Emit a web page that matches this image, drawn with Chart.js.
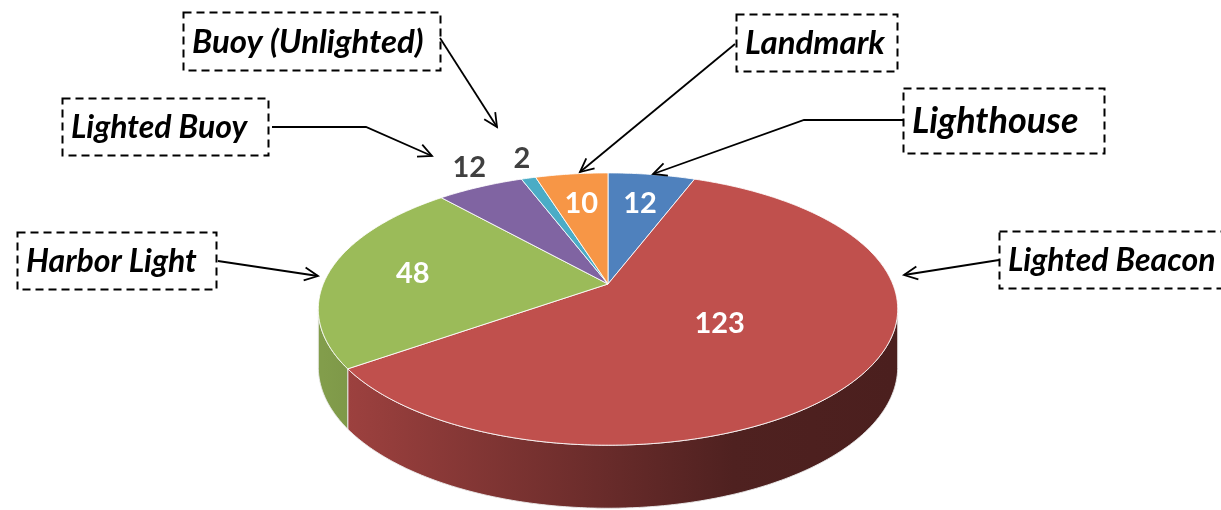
<!DOCTYPE html>
<html>
<head>
<meta charset="utf-8">
<title>Aids to navigation by type</title>
<script src="https://cdn.jsdelivr.net/npm/chart.js@4.4.1/dist/chart.umd.min.js"></script>
<style>
  html, body { margin: 0; padding: 0; background: #fff; }
  #cntAyudas { width: 1221px; height: 510px; }
</style>
</head>
<body>
<div id="cntAyudas"><canvas id="cntAyudas_Grafica" width="1221" height="510"></canvas></div>
<script>
  // data, clockwise from 12 o'clock
  const categories = ['Lighthouse', 'Lighted Beacon', 'Harbor Light', 'Lighted Buoy', 'Buoy (Unlighted)', 'Landmark'];
  const counts = [12, 123, 48, 12, 2, 10];
  const sliceColors = ['#4F81BD', '#C0504D', '#9BBB59', '#8064A2', '#4BACC6', '#F79646'];
  const outsideLabels = ['Lighted Buoy', 'Buoy (Unlighted)'];

  // tilt of the disc: perspective, horizontal/vertical stretch and thickness (relative to radius)
  const tilt = { persp: 0.184, sx: 1.26, sy: 0.582, thick: 0.252 };
  // light falloff across the side wall, left to right
  const shade = [[0, 0.84], [0.1, 0.78], [0.5, 0.54], [0.72, 0.41], [1, 0.39]];

  // dashed boxes with arrows pointing at the slices
  const callouts = [
    { text: 'Buoy (Unlighted)', box: [183, 12, 257, 58], size: 33, path: [[440, 38], [497, 127]] },
    { text: 'Lighted Buoy',     box: [62, 98, 206, 57],   size: 32, path: [[272, 127], [366, 127], [432, 156]] },
    { text: 'Landmark',         box: [736, 14, 161, 57],  size: 33, path: [[735, 44], [580, 172]] },
    { text: 'Lighthouse',       box: [903, 88, 201, 65],  size: 36, path: [[903, 120], [804, 120], [653, 174]] },
    { text: 'Harbor Light',     box: [17, 232, 199, 57],  size: 32, path: [[218, 261], [318, 276]] },
    { text: 'Lighted Beacon',   box: [999, 231, 240, 57], size: 32, path: [[999, 260], [904, 275]] }
  ];

  function scaleColor(hex, f) {
    const n = parseInt(hex.slice(1), 16);
    const r = Math.round(((n >> 16) & 255) * f), g = Math.round(((n >> 8) & 255) * f), b = Math.round((n & 255) * f);
    return 'rgb(' + r + ',' + g + ',' + b + ')';
  }

  // flat pie angle -> point on the tilted disc
  function rimPoint(arc, a, f) {
    const X = Math.cos(a) * f, u = -Math.sin(a) * f;
    const g = 1 / (1 + tilt.persp * u);
    const R = arc.outerRadius;
    return {
      x: arc.x + R * tilt.sx * X * g,
      y: arc.y - R * tilt.sy * u * g,
      t: R * tilt.thick * Math.sqrt(g)
    };
  }

  function tracePath(ctx, arc, s, e, f, withBottom) {
    const n = Math.max(2, Math.ceil((e - s) / 0.01));
    for (let j = 0; j <= n; j++) {
      const p = rimPoint(arc, s + (e - s) * j / n, f);
      ctx.lineTo(p.x, p.y);
    }
    if (withBottom) {
      for (let j = n; j >= 0; j--) {
        const p = rimPoint(arc, s + (e - s) * j / n, f);
        ctx.lineTo(p.x, p.y + p.t);
      }
    }
  }

  const pie3D = {
    id: 'pie3D',
    beforeDatasetsDraw(chart) {
      const ctx = chart.ctx;
      const arcs = chart.getDatasetMeta(0).data;
      const edge = Math.asin(tilt.persp);
      ctx.save();
      ctx.lineJoin = 'round';

      // side wall, front half only
      arcs.forEach((arc, i) => {
        const s = Math.max(arc.startAngle, edge), e = Math.min(arc.endAngle, Math.PI - edge);
        if (s >= e) return;
        ctx.beginPath();
        const p0 = rimPoint(arc, s, 1);
        ctx.moveTo(p0.x, p0.y);
        tracePath(ctx, arc, s, e, 1, true);
        ctx.closePath();
        const w = arc.outerRadius * tilt.sx;
        const grd = ctx.createLinearGradient(arc.x - w, 0, arc.x + w, 0);
        shade.forEach(([o, f]) => grd.addColorStop(o, scaleColor(sliceColors[i], f)));
        ctx.fillStyle = grd;
        ctx.fill();
        ctx.strokeStyle = 'rgba(235,235,235,0.9)';
        ctx.lineWidth = 1;
        ctx.stroke();
      });

      // top faces
      arcs.forEach((arc, i) => {
        ctx.beginPath();
        ctx.moveTo(arc.x, arc.y);
        tracePath(ctx, arc, arc.startAngle, arc.endAngle, 1, false);
        ctx.closePath();
        ctx.fillStyle = sliceColors[i];
        ctx.fill();
        ctx.strokeStyle = 'rgba(255,255,255,0.85)';
        ctx.lineWidth = 1;
        ctx.stroke();
      });
      ctx.restore();
      return false;
    },
    afterDraw(chart) {
      const ctx = chart.ctx;
      const arcs = chart.getDatasetMeta(0).data;
      ctx.save();

      // value labels
      ctx.textAlign = 'center';
      ctx.font = 'bold 29px Lato';
      arcs.forEach((arc, i) => {
        const mid = (arc.startAngle + arc.endAngle) / 2;
        if (outsideLabels.includes(categories[i])) {
          const p = rimPoint(arc, mid, 1.1);
          ctx.fillStyle = '#404040';
          ctx.textBaseline = 'bottom';
          ctx.fillText(String(counts[i]), p.x, p.y + 4);
        } else {
          const p = rimPoint(arc, mid, (arc.endAngle - arc.startAngle) > Math.PI / 2 ? 0.47 : 0.7);
          ctx.fillStyle = '#ffffff';
          ctx.textBaseline = 'middle';
          ctx.fillText(String(counts[i]), p.x, p.y);
        }
      });

      // callouts
      ctx.strokeStyle = '#000';
      ctx.fillStyle = '#000';
      callouts.forEach(c => {
        const [bx, by, bw, bh] = c.box;
        ctx.lineWidth = 2;
        ctx.setLineDash([8, 5]);
        ctx.strokeRect(bx + 0.5, by + 0.5, bw, bh);
        ctx.setLineDash([]);

        ctx.font = 'italic bold ' + c.size + 'px Lato';
        ctx.textAlign = 'left';
        ctx.textBaseline = 'middle';
        ctx.fillText(c.text, bx + 9, by + bh / 2 + 1);

        const pts = c.path;
        ctx.lineWidth = 1.8;
        ctx.beginPath();
        ctx.moveTo(pts[0][0], pts[0][1]);
        for (let j = 1; j < pts.length; j++) ctx.lineTo(pts[j][0], pts[j][1]);
        ctx.stroke();

        const [tx, ty] = pts[pts.length - 1], [px, py] = pts[pts.length - 2];
        const ang = Math.atan2(ty - py, tx - px);
        ctx.beginPath();
        ctx.moveTo(tx - 15 * Math.cos(ang - 0.45), ty - 15 * Math.sin(ang - 0.45));
        ctx.lineTo(tx, ty);
        ctx.lineTo(tx - 15 * Math.cos(ang + 0.45), ty - 15 * Math.sin(ang + 0.45));
        ctx.stroke();
      });
      ctx.restore();
    }
  };

  const ctx = document.getElementById('cntAyudas_Grafica').getContext('2d');
  window.cntAyudas_Grafica_ = new Chart(ctx, {
    type: 'pie',
    data: {
      labels: categories,
      datasets: [{ data: counts, backgroundColor: sliceColors, borderWidth: 0 }]
    },
    options: {
      responsive: false,
      animation: false,
      layout: { padding: { top: 58, left: 0, right: 5, bottom: 0 } },
      plugins: {
        legend: { display: false },
        tooltip: { enabled: false }
      }
    },
    plugins: [pie3D]
  });
</script>
</body>
</html>
